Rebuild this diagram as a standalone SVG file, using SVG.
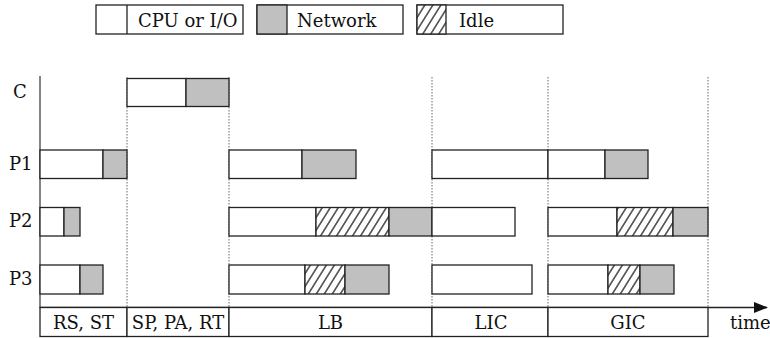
<svg xmlns="http://www.w3.org/2000/svg" width="770" height="338" viewBox="0 0 770 338">
<style>
text{font-family:'DejaVu Serif','Liberation Serif',serif;font-size:18px;fill:#111}
.cpu{fill:#fff;stroke:#222;stroke-width:1.3}
.net{fill:#c0c0c0;stroke:#222;stroke-width:1.3}
.idle{fill:url(#hatch);stroke:#222;stroke-width:1.3}
.box{fill:#fff;stroke:#222;stroke-width:1.3}
.dot{stroke:#666;stroke-width:1;stroke-dasharray:1.5 1.5;fill:none}
.lbl{text-anchor:middle}
</style>
<defs>
<pattern id="hatch" patternUnits="userSpaceOnUse" width="8" height="8" patternTransform="skewX(-32)">
<rect width="8" height="8" fill="#fff"/>
<line x1="4" y1="-1" x2="4" y2="9" stroke="#000" stroke-width="1.3"/>
</pattern>
<marker id="arr" markerWidth="14" markerHeight="12" refX="13" refY="6" orient="auto" markerUnits="userSpaceOnUse">
<path d="M0,0.5 L14,6 L0,11.5 Z" fill="#111"/>
</marker>
</defs>

<g id="legend">
<g id="legend-cpu"><rect class="cpu" x="96" y="5" width="147" height="29"/><line x1="127" y1="5" x2="127" y2="34" stroke="#222" stroke-width="1.3"/><text x="138" y="27">CPU or I/O</text></g>
<g id="legend-net"><rect class="box" x="257" y="5" width="146" height="29"/><rect class="net" x="257" y="5" width="30" height="29"/><text x="297" y="27">Network</text></g>
<g id="legend-idle"><rect class="box" x="417" y="5" width="146" height="29"/><rect class="idle" x="417" y="5" width="29" height="29"/><text x="459" y="27">Idle</text></g>
</g>

<g id="row-labels">
<text x="13" y="98">C</text>
<text x="9" y="170">P1</text>
<text x="9" y="227">P2</text>
<text x="9" y="285">P3</text>
</g>

<g id="connectors">
<line class="dot" x1="127" y1="77" x2="127" y2="307"/>
<line class="dot" x1="229" y1="77" x2="229" y2="307"/>
<line class="dot" x1="432" y1="77" x2="432" y2="307"/>
<line class="dot" x1="548" y1="77" x2="548" y2="307"/>
<line class="dot" x1="708" y1="77" x2="708" y2="307"/>
<line x1="40" y1="76" x2="40" y2="308" stroke="#666" stroke-width="1.6"/>
<line x1="40" y1="307.5" x2="767" y2="307.5" stroke="#222" stroke-width="1.3" marker-end="url(#arr)"/>
</g>

<g id="C-SP"><rect class="cpu" x="127" y="78.5" width="59" height="28"/><rect class="net" x="186" y="78.5" width="43" height="28"/></g>

<g id="P1-RS"><rect class="cpu" x="40" y="150" width="63" height="28.5"/><rect class="net" x="103" y="150" width="24" height="28.5"/></g>
<g id="P1-LB"><rect class="cpu" x="229" y="150" width="73" height="28.5"/><rect class="net" x="302" y="150" width="54" height="28.5"/></g>
<g id="P1-LIC"><rect class="cpu" x="432" y="150" width="116" height="28.5"/></g>
<g id="P1-GIC"><rect class="cpu" x="548" y="150" width="57" height="28.5"/><rect class="net" x="605" y="150" width="43" height="28.5"/></g>

<g id="P2-RS"><rect class="cpu" x="40" y="207.5" width="24" height="28.5"/><rect class="net" x="64" y="207.5" width="16" height="28.5"/></g>
<g id="P2-LB"><rect class="cpu" x="229" y="207.5" width="87" height="28.5"/><rect class="idle" x="316" y="207.5" width="73" height="28.5"/><rect class="net" x="389" y="207.5" width="43" height="28.5"/></g>
<g id="P2-LIC"><rect class="cpu" x="432" y="207.5" width="83" height="28.5"/></g>
<g id="P2-GIC"><rect class="cpu" x="548" y="207.5" width="69" height="28.5"/><rect class="idle" x="617" y="207.5" width="56" height="28.5"/><rect class="net" x="673" y="207.5" width="35" height="28.5"/></g>

<g id="P3-RS"><rect class="cpu" x="40" y="265" width="40" height="29"/><rect class="net" x="80" y="265" width="23" height="29"/></g>
<g id="P3-LB"><rect class="cpu" x="229" y="265" width="76" height="29"/><rect class="idle" x="305" y="265" width="40" height="29"/><rect class="net" x="345" y="265" width="44" height="29"/></g>
<g id="P3-LIC"><rect class="cpu" x="432" y="265" width="100" height="29"/></g>
<g id="P3-GIC"><rect class="cpu" x="548" y="265" width="60" height="29"/><rect class="idle" x="608" y="265" width="32" height="29"/><rect class="net" x="640" y="265" width="34" height="29"/></g>

<g id="phases">
<g id="phase-RS"><rect class="box" x="40" y="307.5" width="87" height="29"/><text class="lbl" x="83.5" y="329">RS, ST</text></g>
<g id="phase-SP"><rect class="box" x="127" y="307.5" width="102" height="29"/><text class="lbl" x="178" y="329">SP, PA, RT</text></g>
<g id="phase-LB"><rect class="box" x="229" y="307.5" width="203" height="29"/><text class="lbl" x="330.5" y="329">LB</text></g>
<g id="phase-LIC"><rect class="box" x="432" y="307.5" width="116" height="29"/><text class="lbl" x="491" y="329">LIC</text></g>
<g id="phase-GIC"><rect class="box" x="548" y="307.5" width="160" height="29"/><text class="lbl" x="628" y="329">GIC</text></g>
</g>

<text id="time-label" x="730" y="329">time</text>
</svg>
